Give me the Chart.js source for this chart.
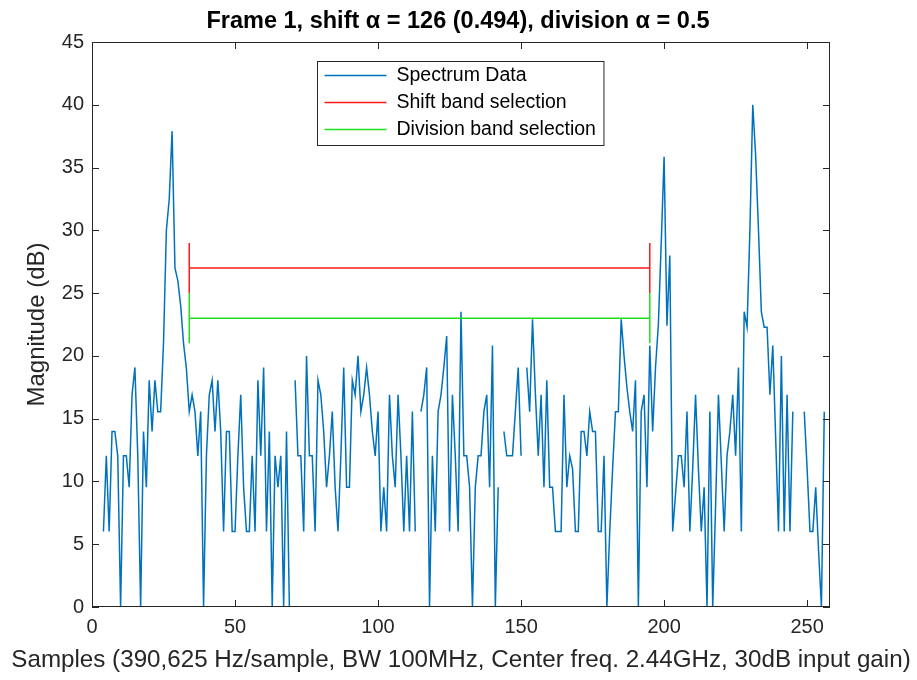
<!DOCTYPE html>
<html>
<head>
<meta charset="utf-8">
<script src="https://cdn.jsdelivr.net/npm/chart.js@4.4.1/dist/chart.umd.min.js"></script>
<style>
  html, body { margin: 0; padding: 0; background: #fff; }
</style>
</head>
<body>
<canvas id="myChart" width="917" height="680"></canvas>
<script>
// sample index 1..256
const samples = Array.from({ length: 256 }, (_, i) => i + 1);

// magnitude in dB, null where the trace has a gap
const magnitude = [
  null, null, null, 6.02, 12.04, 6.02, 13.98, 13.98, 12.04, 0, 12.04, 12.04, 9.54, 16.9, 19.08, 12.04,
  0, 13.98, 9.54, 18.06, 13.98, 18.06, 15.56, 15.56, 21, 30, 32.5, 37.9, 27, 26, 24, 21,
  19, 15.56, 16.9, 15.56, 12.04, 15.56, 0, 12.04, 16.9, 18.06, 13.98, 18.06, 13.98, 6.02, 13.98, 13.98,
  6.02, 6.02, 12.04, 16.9, 9.54, 6.02, 6.02, 12.04, 6.02, 18.06, 12.04, 19.08, 6.02, 13.98, 0, 12.04,
  9.54, 12.04, 0, 13.98, 0, null, 18.06, 12.04, 12.04, 6.02, 20, 12.04, 12.04, 6.02, 18.06, 16.9,
  13.98, 9.54, 12.04, 15.56, 9.54, 6.02, 12.04, 19.08, 9.54, 9.54, 18.06, 16.9, 20, 15.56, 16.9, 19.08,
  16.9, 13.98, 12.04, 15.56, 6.02, 9.54, 6.02, 16.9, 12.04, 9.54, 16.9, 12.04, 6.02, 12.04, 6.02, 15.56,
  6.02, null, 15.56, 16.9, 19.08, 0, 12.04, 6.02, 15.56, 16.9, 19.08, 21.58, 6.02, 16.9, 12.04, 6.02,
  23.52, 12.04, 12.04, 9.54, 0, 9.54, 12.04, 12.04, 15.56, 16.9, 9.54, 20.83, 0, 9.54, null, 13.98,
  12.04, 12.04, 12.04, 15.56, 19.08, 12.04, null, 19.08, 15.56, 22.92, 17, 12.04, 16.9, 9.54, 18.06, 9.54,
  9.54, 6.02, 6.02, 6.02, 16.9, 9.54, 12.04, 11, 6.02, 6.02, 13.98, 13.98, 12.04, 15.56, 13.98, 13.98,
  6.02, 6.02, 12.04, 0, 6.02, 11, 15.56, 15.56, 22.92, 20, 17.5, 15.56, 13.98, 18.06, 0, 15.56,
  16.9, 9.54, 20.83, 13.98, 19.08, 22.5, 29, 35.85, 22.4, 28, 6.02, 9, 12.04, 12.04, 9.54, 15.56,
  6.02, 11, 16.9, 11, 6.02, 9.54, 0, 15.56, 0, 8, 16.9, 11.5, 6.02, 12.04, 13.98, 16.9,
  12.04, 19.08, 6.02, 23.52, 22.28, 30, 40, 36, 30, 23.5, 22.28, 22.28, 16.9, 20.83, 13.5, 6.02,
  20, 6.02, 16.9, 6.02, 15.56, null, null, null, 15.56, 11, 6.02, 6.02, 9.54, 4.5, 0, 15.56,
];

// band selection (sample range and levels in dB)
const bandStart = 34;
const bandEnd = 195;
const shiftLevel = 27;
const divisionLevel = 23;
const bandHalfHeight = 2;

const xTicks = [0, 50, 100, 150, 200, 250];
const yTicks = [0, 5, 10, 15, 20, 25, 30, 35, 40, 45];

const titleText = "Frame 1, shift \u03b1 = 126 (0.494), division \u03b1 = 0.5";
const xLabel = "Samples (390,625 Hz/sample, BW 100MHz, Center freq. 2.44GHz, 30dB input gain)";
const yLabel = "Magnitude (dB)";

const fontFamily = "'Liberation Sans', Arial, Helvetica, sans-serif";
const axisColor = "#262626";
Chart.defaults.font.family = fontFamily;
Chart.defaults.color = axisColor;

function bandShape(level) {
  return [
    { x: bandStart, y: level - bandHalfHeight },
    { x: bandStart, y: level + bandHalfHeight },
    { x: bandStart, y: null },
    { x: bandStart, y: level },
    { x: bandEnd, y: level },
    { x: bandEnd, y: null },
    { x: bandEnd, y: level - bandHalfHeight },
    { x: bandEnd, y: level + bandHalfHeight },
  ];
}

// box round the plot with inward ticks, title, x label and legend, like the original figure
const matlabAxes = {
  id: "matlabAxes",
  afterDatasetsDraw(chart) {
    const { ctx, chartArea: a } = chart;
    const x = chart.scales.x;
    const y = chart.scales.y;
    const tick = 7;
    ctx.save();
    ctx.strokeStyle = axisColor;
    ctx.lineWidth = 1;
    ctx.strokeRect(a.left + 0.5, a.top + 0.5, a.width - 1, a.height - 1);
    ctx.beginPath();
    xTicks.forEach((v) => {
      const px = Math.round(x.getPixelForValue(v)) + 0.5;
      ctx.moveTo(px, a.bottom);
      ctx.lineTo(px, a.bottom - tick);
      ctx.moveTo(px, a.top);
      ctx.lineTo(px, a.top + tick);
    });
    yTicks.forEach((v) => {
      const py = Math.round(y.getPixelForValue(v)) + 0.5;
      ctx.moveTo(a.left, py);
      ctx.lineTo(a.left + tick, py);
      ctx.moveTo(a.right, py);
      ctx.lineTo(a.right - tick, py);
    });
    ctx.stroke();
    ctx.restore();
  },
  afterDraw(chart) {
    const { ctx, chartArea: a } = chart;
    const sets = chart.data.datasets;
    const cx = (a.left + a.right) / 2;
    ctx.save();

    // title
    ctx.fillStyle = "#000";
    ctx.textAlign = "center";
    ctx.textBaseline = "middle";
    ctx.font = "bold 23.5px " + fontFamily;
    ctx.fillText(titleText, cx - 3, 22);

    // x label (wider than the plot, so not the scale title)
    ctx.fillStyle = axisColor;
    ctx.font = "24.2px " + fontFamily;
    ctx.fillText(xLabel, cx, 660);

    // legend
    ctx.font = "19.5px " + fontFamily;
    let textW = 0;
    sets.forEach((ds) => {
      textW = Math.max(textW, ctx.measureText(ds.label).width);
    });
    const lineLen = 62;
    const rowH = 27;
    const w = 7 + lineLen + 10 + textW + 8;
    const h = sets.length * rowH + 3;
    const left = Math.round(cx - w / 2) - 0.5;
    const top = Math.round(a.top + 19) + 0.5;
    ctx.fillStyle = "#fff";
    ctx.fillRect(left, top, w, h);
    ctx.strokeStyle = axisColor;
    ctx.lineWidth = 1;
    ctx.strokeRect(left, top, w, h);
    sets.forEach((ds, i) => {
      const cy = top + 14 + i * rowH;
      ctx.strokeStyle = ds.borderColor;
      ctx.lineWidth = 1.5;
      ctx.beginPath();
      ctx.moveTo(left + 7, cy);
      ctx.lineTo(left + 7 + lineLen, cy);
      ctx.stroke();
      ctx.fillStyle = "#000";
      ctx.textBaseline = "middle";
      ctx.textAlign = "left";
      ctx.fillText(ds.label, left + 7 + lineLen + 10, cy);
    });
    ctx.restore();
  },
};

const ctx = document.getElementById("myChart").getContext("2d");
const myChart = new Chart(ctx, {
  type: "line",
  data: {
    datasets: [
      {
        label: "Spectrum Data",
        data: samples.map((s, i) => ({ x: s, y: magnitude[i] })),
        borderColor: "#0072BD",
        borderWidth: 1.5,
        pointRadius: 0,
        spanGaps: false,
        order: 3,
      },
      {
        label: "Shift band selection",
        data: bandShape(shiftLevel),
        borderColor: "#ff1a1a",
        borderWidth: 1.5,
        pointRadius: 0,
        spanGaps: false,
        order: 2,
      },
      {
        label: "Division band selection",
        data: bandShape(divisionLevel),
        borderColor: "#1ee01e",
        borderWidth: 1.5,
        pointRadius: 0,
        spanGaps: false,
        order: 1,
      },
    ],
  },
  options: {
    responsive: false,
    animation: false,
    layout: { padding: { left: 0, right: 87, top: 42, bottom: 0 } },
    plugins: {
      legend: { display: false },
      tooltip: { enabled: false },
      title: { display: false },
    },
    scales: {
      x: {
        type: "linear",
        min: 0,
        max: 258,
        grid: { display: false, drawTicks: false },
        border: { display: false },
        afterBuildTicks: (scale) => {
          scale.ticks = xTicks.map((v) => ({ value: v }));
        },
        afterFit: (scale) => {
          scale.height = 73;
        },
        ticks: { padding: 8, color: axisColor, font: { size: 20 }, maxRotation: 0 },
      },
      y: {
        type: "linear",
        min: 0,
        max: 45,
        grid: { display: false, drawTicks: false },
        border: { display: false },
        afterBuildTicks: (scale) => {
          scale.ticks = yTicks.map((v) => ({ value: v }));
        },
        afterFit: (scale) => {
          scale.width = 92;
        },
        ticks: { padding: 8, color: axisColor, font: { size: 20 } },
        title: {
          display: true,
          text: yLabel,
          color: axisColor,
          font: { size: 24 },
          padding: { top: 23, bottom: 0 },
        },
      },
    },
  },
  plugins: [matlabAxes],
});
</script>
</body>
</html>
